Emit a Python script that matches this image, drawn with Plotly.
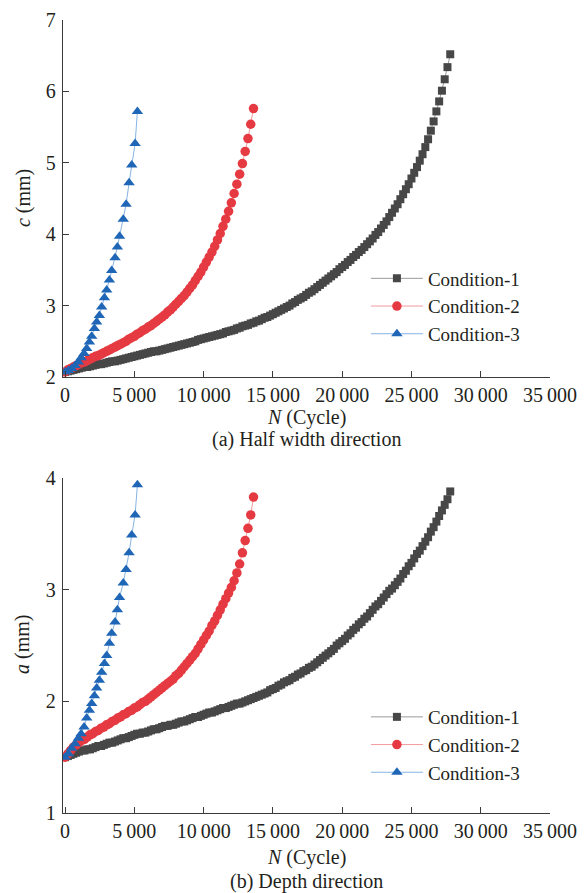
import plotly.graph_objects as go

# ---------------- data ----------------
cond1_N = [
    0, 200, 400, 600, 800, 1000, 1200, 1400, 1600, 1800,
    2000, 2200, 2400, 2600, 2800, 3000, 3200, 3400, 3600, 3800,
    4000, 4200, 4400, 4600, 4800, 5000, 5200, 5400, 5600, 5800,
    6000, 6200, 6400, 6600, 6800, 7000, 7200, 7400, 7600, 7800,
    8000, 8200, 8400, 8600, 8800, 9000, 9200, 9400, 9600, 9800,
    10000, 10200, 10400, 10600, 10800, 11000, 11200, 11400, 11600, 11800,
    12000, 12200, 12400, 12600, 12800, 13000, 13200, 13400, 13600, 13800,
    14000, 14200, 14400, 14600, 14800, 15000, 15200, 15400, 15600, 15800,
    16000, 16200, 16400, 16600, 16800, 17000, 17200, 17400, 17600, 17800,
    18000, 18200, 18400, 18600, 18800, 19000, 19200, 19400, 19600, 19800,
    20000, 20200, 20400, 20600, 20800, 21000, 21200, 21400, 21600, 21800,
    22000, 22200, 22400, 22600, 22800, 23000, 23200, 23400, 23600, 23800,
    24000, 24200, 24400, 24600, 24800, 25000, 25200, 25400, 25600, 25800,
    26000, 26200, 26400, 26600, 26800, 27000, 27200, 27400, 27600, 27800,
]
cond1_c = [
    2.07, 2.08, 2.09, 2.10, 2.11, 2.12, 2.13, 2.14, 2.14, 2.15,
    2.16, 2.17, 2.18, 2.18, 2.19, 2.20, 2.21, 2.22, 2.22, 2.23,
    2.24, 2.25, 2.26, 2.27, 2.28, 2.29, 2.30, 2.31, 2.32, 2.33,
    2.34, 2.35, 2.36, 2.36, 2.37, 2.38, 2.39, 2.40, 2.41, 2.42,
    2.43, 2.44, 2.45, 2.46, 2.47, 2.48, 2.49, 2.50, 2.52, 2.53,
    2.54, 2.55, 2.56, 2.57, 2.58, 2.59, 2.60, 2.61, 2.63, 2.64,
    2.65, 2.66, 2.68, 2.69, 2.71, 2.72, 2.73, 2.75, 2.76, 2.78,
    2.79, 2.81, 2.83, 2.84, 2.86, 2.88, 2.90, 2.92, 2.94, 2.96,
    2.98, 3.00, 3.03, 3.05, 3.08, 3.10, 3.12, 3.15, 3.18, 3.20,
    3.23, 3.26, 3.29, 3.32, 3.35, 3.38, 3.41, 3.44, 3.47, 3.51,
    3.54, 3.57, 3.61, 3.64, 3.68, 3.71, 3.75, 3.78, 3.82, 3.86,
    3.90, 3.94, 3.99, 4.03, 4.08, 4.13, 4.18, 4.24, 4.30, 4.36,
    4.42, 4.49, 4.56, 4.63, 4.70, 4.78, 4.86, 4.94, 5.03, 5.12,
    5.22, 5.33, 5.45, 5.58, 5.72, 5.86, 6.01, 6.17, 6.34, 6.52,
]
cond1_a = [
    1.50, 1.51, 1.52, 1.53, 1.54, 1.55, 1.56, 1.56, 1.57, 1.57,
    1.58, 1.59, 1.60, 1.60, 1.61, 1.62, 1.63, 1.63, 1.64, 1.65,
    1.66, 1.67, 1.67, 1.68, 1.69, 1.70, 1.71, 1.71, 1.72, 1.72,
    1.73, 1.74, 1.75, 1.75, 1.76, 1.77, 1.78, 1.78, 1.79, 1.79,
    1.80, 1.81, 1.82, 1.82, 1.83, 1.84, 1.85, 1.86, 1.86, 1.87,
    1.88, 1.89, 1.90, 1.90, 1.91, 1.92, 1.93, 1.94, 1.94, 1.95,
    1.96, 1.97, 1.98, 1.98, 1.99, 2.00, 2.01, 2.02, 2.03, 2.04,
    2.05, 2.06, 2.07, 2.08, 2.10, 2.11, 2.12, 2.14, 2.15, 2.17,
    2.18, 2.19, 2.21, 2.22, 2.24, 2.25, 2.27, 2.28, 2.30, 2.31,
    2.33, 2.35, 2.37, 2.39, 2.41, 2.43, 2.45, 2.47, 2.50, 2.52,
    2.54, 2.56, 2.59, 2.61, 2.64, 2.66, 2.69, 2.71, 2.74, 2.76,
    2.79, 2.82, 2.85, 2.87, 2.90, 2.93, 2.96, 2.99, 3.01, 3.04,
    3.07, 3.10, 3.14, 3.17, 3.21, 3.24, 3.28, 3.32, 3.35, 3.39,
    3.43, 3.47, 3.52, 3.56, 3.61, 3.66, 3.71, 3.76, 3.81, 3.88,
]

cond2_N = [
    0, 200, 400, 600, 800, 1000, 1200, 1400, 1600, 1800,
    2000, 2200, 2400, 2600, 2800, 3000, 3200, 3400, 3600, 3800,
    4000, 4200, 4400, 4600, 4800, 5000, 5200, 5400, 5600, 5800,
    6000, 6200, 6400, 6600, 6800, 7000, 7200, 7400, 7600, 7800,
    8000, 8200, 8400, 8600, 8800, 9000, 9200, 9400, 9600, 9800,
    10000, 10200, 10400, 10600, 10800, 11000, 11200, 11400, 11600, 11800,
    12000, 12200, 12400, 12600, 12800, 13000, 13200, 13400, 13600,
]
cond2_c = [
    2.07, 2.10, 2.12, 2.14, 2.16, 2.18, 2.20, 2.21, 2.23, 2.25,
    2.27, 2.29, 2.30, 2.32, 2.34, 2.36, 2.38, 2.40, 2.42, 2.44,
    2.46, 2.48, 2.50, 2.53, 2.55, 2.57, 2.60, 2.62, 2.65, 2.67,
    2.70, 2.72, 2.75, 2.78, 2.81, 2.84, 2.87, 2.91, 2.94, 2.98,
    3.02, 3.06, 3.10, 3.14, 3.19, 3.24, 3.29, 3.35, 3.41, 3.47,
    3.54, 3.61, 3.68, 3.75, 3.83, 3.92, 4.01, 4.11, 4.21, 4.32,
    4.44, 4.57, 4.70, 4.84, 4.99, 5.16, 5.34, 5.54, 5.76,
]
cond2_a = [
    1.50, 1.53, 1.56, 1.59, 1.61, 1.63, 1.65, 1.66, 1.68, 1.70,
    1.71, 1.73, 1.74, 1.76, 1.77, 1.79, 1.80, 1.82, 1.83, 1.85,
    1.86, 1.88, 1.89, 1.91, 1.92, 1.94, 1.95, 1.97, 1.99, 2.00,
    2.02, 2.04, 2.06, 2.08, 2.10, 2.12, 2.14, 2.16, 2.18, 2.20,
    2.23, 2.25, 2.28, 2.31, 2.34, 2.37, 2.40, 2.43, 2.47, 2.51,
    2.55, 2.59, 2.63, 2.68, 2.72, 2.77, 2.82, 2.87, 2.92, 2.97,
    3.02, 3.08, 3.15, 3.23, 3.33, 3.44, 3.55, 3.67, 3.83,
]

cond3_N = [0, 240, 475, 720, 960, 1155, 1370, 1560, 1755, 1920,
           2115, 2280, 2475, 2640, 2840, 3005, 3200, 3365, 3610, 3775,
           3930, 4200, 4405, 4620, 4810, 5055, 5220]
cond3_c = [2.07, 2.09, 2.12, 2.16, 2.21, 2.27, 2.33, 2.40, 2.49, 2.57,
           2.68, 2.77, 2.86, 2.98, 3.11, 3.22, 3.36, 3.49, 3.67, 3.82,
           3.97, 4.21, 4.42, 4.72, 4.97, 5.27, 5.72]
cond3_a = [1.50, 1.53, 1.58, 1.62, 1.67, 1.71, 1.77, 1.85, 1.92, 1.98,
           2.05, 2.12, 2.19, 2.26, 2.34, 2.41, 2.52, 2.61, 2.71, 2.82,
           2.93, 3.06, 3.18, 3.33, 3.49, 3.67, 3.94]

series_names = ["Condition-1", "Condition-2", "Condition-3"]
x_tickvals = [0, 5000, 10000, 15000, 20000, 25000, 30000, 35000]
x_ticktext = ["0", "5\u2009000", "10\u2009000", "15\u2009000", "20\u2009000",
              "25\u2009000", "30\u2009000", "35\u2009000"]
c_ticks = [2, 3, 4, 5, 6, 7]
a_ticks = [1, 2, 3, 4]

assert len(cond1_N) == len(cond1_c) == len(cond1_a)
assert len(cond2_N) == len(cond2_c) == len(cond2_a)
assert len(cond3_N) == len(cond3_c) == len(cond3_a)

# ---------------- styles ----------------
FONT = "Liberation Serif"
TXT = "#231f20"
AX = "#3a3a3a"
styles = [
    dict(mc="#474747", lc="#9a9a9a", sym="square", size=8),
    dict(mc="#e63a42", lc="#f29a9c", sym="circle", size=9.5),
    dict(mc="#1f66b6", lc="#86b4e3", sym="triangle-up", size=10),
]

fig = go.Figure()
top = [(cond1_N, cond1_c), (cond2_N, cond2_c), (cond3_N, cond3_c)]
bot = [(cond1_N, cond1_a), (cond2_N, cond2_a), (cond3_N, cond3_a)]
for i, (xs, ys) in enumerate(top):
    s = styles[i]
    fig.add_trace(go.Scatter(
        x=xs, y=ys, mode="lines+markers", name=series_names[i],
        line=dict(color=s["lc"], width=1),
        marker=dict(color=s["mc"], symbol=s["sym"], size=s["size"]),
        xaxis="x", yaxis="y", legend="legend"))
for i, (xs, ys) in enumerate(bot):
    s = styles[i]
    fig.add_trace(go.Scatter(
        x=xs, y=ys, mode="lines+markers", name=series_names[i],
        line=dict(color=s["lc"], width=1),
        marker=dict(color=s["mc"], symbol=s["sym"], size=s["size"]),
        xaxis="x2", yaxis="y2", legend="legend2"))

axis_common = dict(
    showline=True, linecolor=AX, linewidth=1.3, mirror=False,
    ticks="inside", ticklen=6, tickwidth=1.3, tickcolor=AX,
    showgrid=False, zeroline=False, automargin=False,
    tickfont=dict(family=FONT, size=20, color=TXT),
)
xaxis_common = dict(axis_common, range=[-150, 35000], tickmode="array",
                    tickvals=x_tickvals, ticktext=x_ticktext,
                    ticklabelstandoff=0)

legend_common = dict(
    font=dict(family=FONT, size=19, color=TXT),
    bgcolor="rgba(0,0,0,0)", borderwidth=0,
    xanchor="left", yanchor="top", tracegroupgap=0, itemwidth=52,
)

fig.update_layout(
    width=585, height=893,
    margin=dict(l=63, r=35, t=20, b=80),
    paper_bgcolor="white", plot_bgcolor="white",
    font=dict(family=FONT, size=20, color=TXT),
    xaxis=dict(xaxis_common, domain=[0, 1], anchor="y"),
    yaxis=dict(axis_common, domain=[0.5498, 1], range=[2, 7], anchor="x",
               tickmode="array", tickvals=c_ticks, ticklabelstandoff=2),
    xaxis2=dict(xaxis_common, domain=[0, 1], anchor="y2"),
    yaxis2=dict(axis_common, domain=[0, 0.4224], range=[1, 4], anchor="x2",
                tickmode="array", tickvals=a_ticks, ticklabelstandoff=2),
    legend=dict(legend_common, x=0.622, y=0.698),
    legend2=dict(legend_common, x=0.622, y=0.145),
    showlegend=True,
)

ann = dict(xref="paper", yref="paper", showarrow=False,
           font=dict(family=FONT, size=20, color=TXT))
fig.add_annotation(ann, text="<i>c</i> (mm)", x=-0.082, y=0.7755,
                   textangle=-90, xanchor="center", yanchor="middle")
fig.add_annotation(ann, text="<i>a</i> (mm)", x=-0.082, y=0.2119,
                   textangle=-90, xanchor="center", yanchor="middle")
fig.add_annotation(ann, text="<i>N</i> (Cycle)", x=0.499, y=0.4985,
                   xanchor="center", yanchor="middle")
fig.add_annotation(ann, text="(a) Half width direction", x=0.499, y=0.4704,
                   xanchor="center", yanchor="middle")
fig.add_annotation(ann, text="<i>N</i> (Cycle)", x=0.499, y=-0.0555,
                   xanchor="center", yanchor="middle")
fig.add_annotation(ann, text="(b) Depth direction", x=0.499, y=-0.0858,
                   xanchor="center", yanchor="middle")

fig.write_html("out.html",
               config={"displayModeBar": False},
               post_script="document.body.style.margin='0';")
